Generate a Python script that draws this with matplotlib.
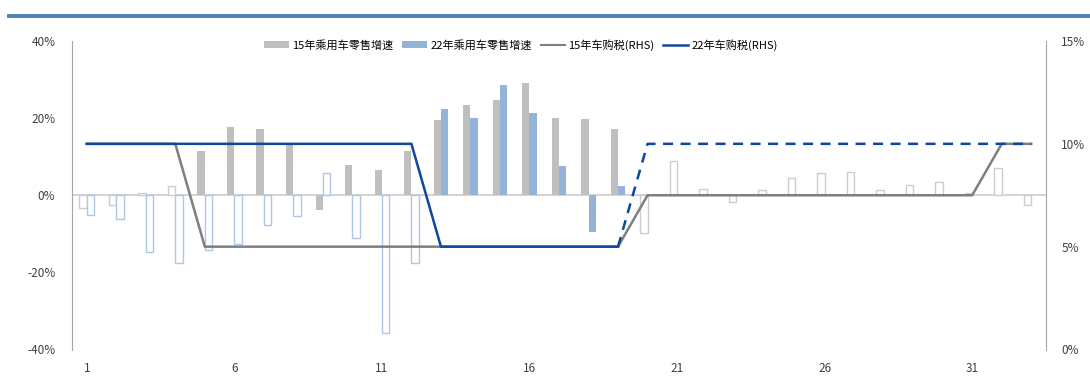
import matplotlib
matplotlib.use("Agg")
import matplotlib.pyplot as plt
import numpy as np
from matplotlib.patches import Patch
from matplotlib.lines import Line2D

plt.rcParams['font.family'] = ['Noto Sans CJK SC', 'DejaVu Sans']

months = list(range(1, 34))
sales15 = [-3.3, -2.5, 0.5, 2.4, 11.4, 17.6, 17.1, 13.1, -3.8, 7.8, 6.5, 11.5,
           19.6, 23.4, 24.7, 29.1, 20.1, 19.9, 17.2, -9.8, 8.9, 1.6, -1.8, 1.25,
           4.5, 5.7, 5.9, 1.25, 2.6, 3.4, 0.5, 7.1, -2.5]
sales22 = [-5.1, -6.1, -14.8, -17.6, -14.2, -12.7, -7.7, -5.3, 5.7, -11.0, -35.7, -17.5,
           22.3, 20.1, 28.6, 21.2, 7.7, -9.5, 2.5] + [np.nan] * 14
# months inside the tax-cut window (filled bars)
cut15 = list(range(5, 20))
cut22 = list(range(13, 20))
tax15 = [10, 10, 10, 10] + [5] * 15 + [7.5] * 12 + [10, 10]
tax22_actual = [10] * 12 + [5] * 7
tax22_assumed_x = [19] + list(range(20, 34))
tax22_assumed = [5] + [10] * 14

c_gray = '#bfbfbf'
c_gray_edge = '#cccccc'
c_blue = '#95b3d7'
c_blue_edge = '#adc7e8'
c_line15 = '#7f7f7f'
c_line22 = '#0d47a1'

fig = plt.figure(figsize=(10.9, 3.89), dpi=100)
ax = fig.add_axes([72/1090, 1-349.5/389, (1046-72)/1090, (349.5-41)/389])
ax2 = ax.twinx()

w = 0.25
for m, v in zip(months, sales15):
    if np.isnan(v):
        continue
    if m in cut15:
        ax.bar(m - w/2, v, width=w, color=c_gray, edgecolor='none', zorder=2)
    else:
        ax.bar(m - w/2, v, width=w, facecolor='white', edgecolor=c_gray_edge, linewidth=1.0, zorder=2)
for m, v in zip(months, sales22):
    if np.isnan(v):
        continue
    if m in cut22:
        ax.bar(m + w/2, v, width=w, color=c_blue, edgecolor='none', zorder=2)
    else:
        ax.bar(m + w/2, v, width=w, facecolor='white', edgecolor=c_blue_edge, linewidth=1.0, zorder=2)

ax.axhline(0, color='#d0d0d0', linewidth=1.3, zorder=1)
ax.set_xlim(0.5, 33.5)
ax.set_ylim(-40, 40)
ax.set_yticks([-40, -20, 0, 20, 40])
ax.set_yticklabels(['-40%', '-20%', '0%', '20%', '40%'])
ax.set_xticks([1, 6, 11, 16, 21, 26, 31])
ax.set_xticklabels(['1', '6', '11', '16', '21', '26', '31'])

ax2.plot(months, tax15, color=c_line15, linewidth=1.8, zorder=3)
ax2.plot(months[:19], tax22_actual, color=c_line22, linewidth=1.8, zorder=4)
ax2.plot(tax22_assumed_x, tax22_assumed, color=c_line22, linewidth=1.8,
         linestyle=(0, (4, 3)), zorder=4)
ax2.set_ylim(0, 15)
ax2.set_yticks([0, 5, 10, 15])
ax2.set_yticklabels(['0%', '5%', '10%', '15%'])

for a in (ax, ax2):
    for s in ('top', 'bottom'):
        a.spines[s].set_visible(False)
ax.spines['left'].set_color('#a6a6a6')
ax.spines['right'].set_visible(False)
ax2.spines['left'].set_visible(False)
ax2.spines['right'].set_color('#a6a6a6')

ax.tick_params(axis='y', length=0, pad=12, labelsize=8.5, labelcolor='#404040')
ax.tick_params(axis='x', length=0, pad=9, labelsize=8.5, labelcolor='#404040')
ax2.tick_params(axis='y', length=0, pad=11, labelsize=8.5, labelcolor='#404040')

# top decorative band
fig.add_artist(Line2D([9/1090, 1.0], [1-15.5/389, 1-15.5/389], color='#4f81bd',
                      linewidth=2.8, transform=fig.transFigure))

handles = [Patch(facecolor=c_gray, edgecolor='none'),
           Patch(facecolor=c_blue, edgecolor='none'),
           Line2D([], [], color=c_line15, linewidth=1.5),
           Line2D([], [], color=c_line22, linewidth=1.8)]
labels = ['15年乘用车零售增速', '22年乘用车零售增速', '15年车购税(RHS)', '22年车购税(RHS)']
fig.legend(handles, labels, loc='center', bbox_to_anchor=(521/1090, 1-45/389),
           ncol=4, frameon=False, fontsize=8, handlelength=2.2, handleheight=0.6,
           handletextpad=0.3, columnspacing=0.8)

fig.savefig('out.png', dpi=100)
